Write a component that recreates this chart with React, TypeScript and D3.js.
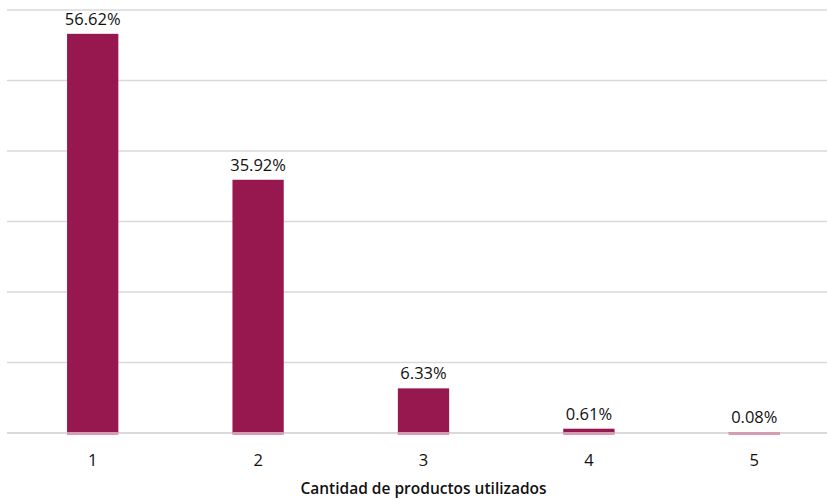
import React from "react";
import * as d3 from "d3";

const categories = ["1", "2", "3", "4", "5"];
const values = [56.62, 35.92, 6.33, 0.61, 0.08];
const yTicks = [0, 10, 20, 30, 40, 50, 60];
const xTitle = "Cantidad de productos utilizados";

const W = 827;
const H = 500;
const M = { left: 10, right: -10, top: 10, bottom: 67 };

export default function App() {
  const x = d3
    .scaleBand<string>()
    .domain(categories)
    .range([M.left, W - M.right])
    .paddingInner(0.69)
    .paddingOuter(0.345);
  const y = d3.scaleLinear().domain([0, 60]).range([H - M.bottom, M.top]);
  const font = "'Open Sans', 'Noto Sans', sans-serif";
  return (
    <svg
      width={W}
      height={H}
      style={{ position: "absolute", left: 0, top: 0, background: "#fff" }}
      fontFamily={font}
    >
      {yTicks.map((t) => (
        <line
          key={t}
          x1={7}
          x2={W}
          y1={y(t)}
          y2={y(t)}
          stroke="#d9d9d9"
          strokeWidth={t === 0 ? 2 : 1.3}
        />
      ))}
      {categories.map((c, i) => (
        <g key={c}>
          <rect
            x={x(c)}
            y={y(values[i])}
            width={x.bandwidth()}
            height={y(0) - y(values[i])}
            fill="#97174f"
          />
          <rect
            x={x(c)}
            y={y(0) - 1}
            width={x.bandwidth()}
            height={3}
            fill="#d59cb6"
          />
          <text
            x={(x(c) as number) + x.bandwidth() / 2}
            y={y(values[i]) - 9}
            textAnchor="middle"
            fontSize={16.5}
            fill="#111"
          >
            {values[i].toFixed(2) + "%"}
          </text>
          <text
            x={(x(c) as number) + x.bandwidth() / 2}
            y={y(0) + 33}
            textAnchor="middle"
            fontSize={16.5}
            fill="#111"
          >
            {c}
          </text>
        </g>
      ))}
      <text
        x={(M.left + W - M.right) / 2}
        y={494}
        textAnchor="middle"
        fontSize={15.5}
        fontWeight={600}
        fill="#111"
      >
        {xTitle}
      </text>
    </svg>
  );
}
